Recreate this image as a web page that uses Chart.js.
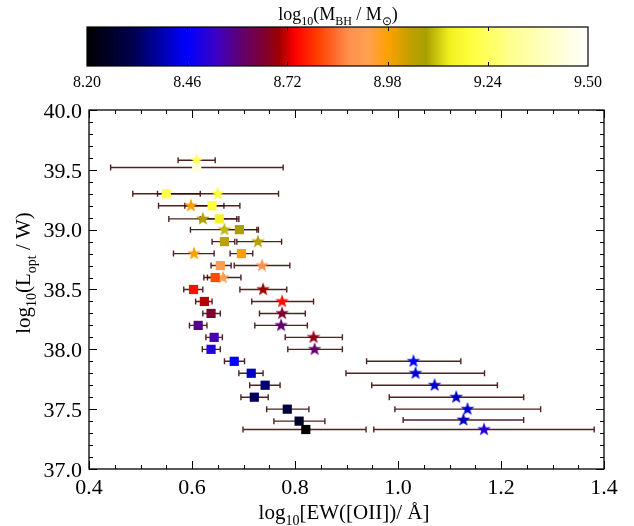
<!DOCTYPE html>
<html>
<head>
<meta charset="utf-8">
<script src="https://cdn.jsdelivr.net/npm/chart.js@4.4.1/dist/chart.umd.min.js"></script>
<style>
  body { margin: 0; background: #fff; }
  #wrap { position: relative; width: 634px; height: 526px; }
  #wrap canvas { position: absolute; left: 0; top: 0; }
</style>
</head>
<body>
<div id="wrap">
  <canvas id="main" width="634" height="526"></canvas>
  <canvas id="cbar" width="634" height="100"></canvas>
</div>
<script>
// squares: log EW, log L, error bar ends, log M_BH (colour)
const sqX    = [0.609, 0.550, 0.639, 0.653, 0.692, 0.663, 0.696, 0.655, 0.645, 0.603, 0.624, 0.637, 0.612, 0.643, 0.637, 0.682, 0.715, 0.742, 0.721, 0.785, 0.808, 0.821];
const sqY    = [39.52, 39.30, 39.20, 39.09, 39.00, 38.90, 38.80, 38.70, 38.60, 38.50, 38.40, 38.30, 38.20, 38.10, 38.00, 37.90, 37.80, 37.70, 37.60, 37.50, 37.40, 37.33];
const sqLo   = [0.442, 0.485, 0.586, 0.616, 0.661, 0.639, 0.674, 0.637, 0.623, 0.584, 0.607, 0.621, 0.595, 0.627, 0.620, 0.663, 0.691, 0.712, 0.695, 0.745, 0.759, 0.699];
const sqHi   = [0.777, 0.616, 0.693, 0.691, 0.729, 0.683, 0.718, 0.676, 0.662, 0.621, 0.639, 0.655, 0.629, 0.659, 0.655, 0.702, 0.738, 0.771, 0.748, 0.827, 0.858, 0.938];
const sqMass = [9.44, 9.22, 9.19, 9.15, 9.08, 9.05, 8.98, 8.92, 8.81, 8.75, 8.71, 8.66, 8.58, 8.55, 8.50, 8.46, 8.41, 8.35, 8.33, 8.29, 8.26, 8.20];

// stars
const stX    = [0.609, 0.650, 0.598, 0.621, 0.663, 0.728, 0.604, 0.736, 0.660, 0.738, 0.775, 0.775, 0.773, 0.836, 0.838, 1.030, 1.034, 1.071, 1.113, 1.135, 1.127, 1.167];
const stY    = [39.58, 39.30, 39.20, 39.09, 39.00, 38.90, 38.80, 38.70, 38.60, 38.50, 38.40, 38.30, 38.20, 38.10, 38.00, 37.90, 37.80, 37.70, 37.60, 37.50, 37.41, 37.33];
const stLo   = [0.573, 0.533, 0.535, 0.555, 0.597, 0.687, 0.564, 0.682, 0.630, 0.693, 0.716, 0.731, 0.722, 0.781, 0.786, 0.939, 0.899, 0.949, 0.983, 0.994, 1.010, 0.953];
const stHi   = [0.645, 0.768, 0.662, 0.687, 0.726, 0.774, 0.643, 0.790, 0.695, 0.784, 0.836, 0.820, 0.824, 0.892, 0.892, 1.122, 1.168, 1.193, 1.244, 1.277, 1.244, 1.381];
const stMass = [9.22, 9.19, 8.98, 9.07, 9.10, 9.06, 8.98, 8.88, 8.93, 8.70, 8.75, 8.66, 8.60, 8.68, 8.61, 8.46, 8.43, 8.42, 8.41, 8.42, 8.41, 8.51];

const xTickVals  = [0.4, 0.6, 0.8, 1.0, 1.2, 1.4];
const yTickVals  = [37.0, 37.5, 38.0, 38.5, 39.0, 39.5, 40.0];
const cbTickVals = [8.20, 8.46, 8.72, 8.98, 9.24, 9.50];

// colour table for the mass bar
const cmapStops = [
  [8.20, '#000000'], [8.32, '#000050'], [8.46, '#0000ff'], [8.54, '#4000c0'],
  [8.60, '#600070'], [8.66, '#800030'], [8.70, '#a00000'], [8.74, '#ff0000'],
  [8.80, '#ff4000'], [8.88, '#ff9050'], [8.93, '#ffa050'], [8.98, '#ffa000'],
  [9.04, '#c0a000'], [9.08, '#a8a000'], [9.14, '#f0f020'], [9.20, '#ffff40'],
  [9.30, '#ffff90'], [9.50, '#ffffff']
];

const FONT = "'Liberation Serif', 'Times New Roman', serif";
Chart.defaults.font.family = FONT;
Chart.defaults.color = '#000';

function hexRgb(h) {
  return [parseInt(h.slice(1, 3), 16), parseInt(h.slice(3, 5), 16), parseInt(h.slice(5, 7), 16)];
}

function cmap(v) {
  if (v <= cmapStops[0][0]) return cmapStops[0][1];
  for (let i = 1; i < cmapStops.length; i++) {
    const [v1, c1] = cmapStops[i];
    if (v <= v1) {
      const [v0, c0] = cmapStops[i - 1];
      const t = (v - v0) / (v1 - v0);
      const a = hexRgb(c0), b = hexRgb(c1);
      const m = a.map((q, k) => Math.round(q + (b[k] - q) * t));
      return `rgb(${m[0]},${m[1]},${m[2]})`;
    }
  }
  return cmapStops[cmapStops.length - 1][1];
}

function makeStar(color) {
  const c = document.createElement('canvas');
  c.width = c.height = 16;
  const g = c.getContext('2d');
  g.beginPath();
  for (let k = 0; k < 10; k++) {
    const r = k % 2 ? 2.9 : 7.2;
    const a = -Math.PI / 2 + k * Math.PI / 5;
    g.lineTo(8 + r * Math.cos(a), 8 + r * Math.sin(a));
  }
  g.closePath();
  g.fillStyle = color;
  g.fill();
  return c;
}
const starImgs = stMass.map(m => makeStar(cmap(m)));

// text with subscripts: parts = [[text, isSub], ...], centred on (x, y)
function drawRich(ctx, parts, x, y, size, rot) {
  const subSize = Math.round(size * 0.65);
  let total = 0;
  const widths = parts.map(([t, sub]) => {
    ctx.font = `${sub ? subSize : size}px ${FONT}`;
    const w = ctx.measureText(t).width;
    total += w;
    return w;
  });
  ctx.save();
  ctx.translate(x, y);
  ctx.rotate(rot || 0);
  ctx.fillStyle = '#000';
  ctx.textBaseline = 'alphabetic';
  ctx.textAlign = 'left';
  let cx = -total / 2;
  parts.forEach(([t, sub], i) => {
    ctx.font = `${sub ? subSize : size}px ${FONT}`;
    ctx.fillText(t, cx, sub ? size * 0.28 : 0);
    cx += widths[i];
  });
  ctx.restore();
}

const errBars = {
  id: 'errBars',
  beforeDatasetsDraw(chart) {
    const { ctx, scales: { x, y } } = chart;
    const sets = [[sqY, sqLo, sqHi], [stY, stLo, stHi]];
    ctx.save();
    ctx.strokeStyle = 'rgba(60,10,10,0.9)';
    ctx.lineWidth = 1.4;
    sets.forEach(([Y, lo, hi]) => {
      Y.forEach((v, i) => {
        const py = y.getPixelForValue(v);
        const p1 = x.getPixelForValue(lo[i]);
        const p2 = x.getPixelForValue(hi[i]);
        ctx.beginPath();
        ctx.moveTo(p1, py); ctx.lineTo(p2, py);
        ctx.moveTo(p1, py - 3); ctx.lineTo(p1, py + 3);
        ctx.moveTo(p2, py - 3); ctx.lineTo(p2, py + 3);
        ctx.stroke();
      });
    });
    ctx.restore();
  }
};

const frame = {
  id: 'frame',
  afterDraw(chart) {
    const { ctx, chartArea: { left, right, top, bottom }, scales: { x, y } } = chart;
    ctx.save();
    ctx.strokeStyle = '#000';
    ctx.lineWidth = 1.3;
    ctx.strokeRect(left, top, right - left, bottom - top);
    ctx.lineWidth = 1;
    ctx.beginPath();
    for (let v = 0.4; v <= 1.4001; v += 0.05) {
      const major = Math.abs(v * 5 - Math.round(v * 5)) < 1e-6;
      const len = major ? 8 : 4;
      const px = Math.round(x.getPixelForValue(v)) + 0.5;
      ctx.moveTo(px, bottom); ctx.lineTo(px, bottom - len);
      ctx.moveTo(px, top); ctx.lineTo(px, top + len);
    }
    for (let v = 37.0; v <= 40.0001; v += 0.1) {
      const major = Math.abs(v * 2 - Math.round(v * 2)) < 1e-6;
      const len = major ? 8 : 4;
      const py = Math.round(y.getPixelForValue(v)) + 0.5;
      ctx.moveTo(left, py); ctx.lineTo(left + len, py);
      ctx.moveTo(right, py); ctx.lineTo(right - len, py);
    }
    ctx.stroke();
    ctx.restore();

    drawRich(ctx, [['log', 0], ['10', 1], ['[EW([OII])/ \u00c5]', 0]], 344, 519, 21, 0);
    drawRich(ctx, [['log', 0], ['10', 1], ['(L', 0], ['opt', 1], [' / W)', 0]], 30, 273, 21, -Math.PI / 2);
  }
};

new Chart(document.getElementById('main'), {
  type: 'scatter',
  data: {
    datasets: [
      {
        label: 'squares',
        data: sqX.map((v, i) => ({ x: v, y: sqY[i] })),
        pointStyle: 'rect',
        pointRadius: 6.5,
        borderWidth: 0,
        backgroundColor: sqMass.map(cmap)
      },
      {
        label: 'stars',
        data: stX.map((v, i) => ({ x: v, y: stY[i] })),
        pointStyle: c => (c.dataIndex !== undefined ? starImgs[c.dataIndex] : 'star'),
        pointRadius: 7,
        borderWidth: 0,
        backgroundColor: stMass.map(cmap)
      }
    ]
  },
  options: {
    responsive: false,
    animation: false,
    devicePixelRatio: 1,
    layout: { padding: { left: 0, right: 30, top: 110, bottom: 0 } },
    plugins: { legend: { display: false }, tooltip: { enabled: false } },
    scales: {
      x: {
        type: 'linear', min: 0.4, max: 1.4,
        afterBuildTicks: s => { s.ticks = xTickVals.map(v => ({ value: v })); },
        afterFit: s => { s.height = 57; },
        ticks: { callback: v => v.toFixed(1), font: { family: FONT, size: 22 }, padding: 6, maxRotation: 0, autoSkip: false },
        grid: { display: false, drawTicks: false },
        border: { display: false }
      },
      y: {
        type: 'linear', min: 37.0, max: 40.0,
        afterBuildTicks: s => { s.ticks = yTickVals.map(v => ({ value: v })); },
        afterFit: s => { s.width = 89; },
        ticks: { callback: v => v.toFixed(1), font: { family: FONT, size: 22 }, padding: 7, labelOffset: 2, autoSkip: false },
        grid: { display: false, drawTicks: false },
        border: { display: false }
      }
    }
  },
  plugins: [errBars, frame]
});

const cbarDraw = {
  id: 'cbarDraw',
  beforeDraw(chart) {
    const { ctx, chartArea: { left, right, top, bottom }, scales: { x } } = chart;
    const lo = cmapStops[0][0], hi = cmapStops[cmapStops.length - 1][0];
    const g = ctx.createLinearGradient(x.getPixelForValue(lo), 0, x.getPixelForValue(hi), 0);
    cmapStops.forEach(([v, c]) => g.addColorStop(Math.min(1, Math.max(0, (v - lo) / (hi - lo))), c));
    ctx.save();
    ctx.fillStyle = g;
    ctx.fillRect(left, top, right - left, bottom - top);
    ctx.strokeStyle = '#000';
    ctx.lineWidth = 1.2;
    ctx.strokeRect(left, top, right - left, bottom - top);
    ctx.beginPath();
    cbTickVals.slice(1, -1).forEach(v => {
      const px = Math.round(x.getPixelForValue(v)) + 0.5;
      ctx.moveTo(px, top); ctx.lineTo(px, top + 4);
      ctx.moveTo(px, bottom); ctx.lineTo(px, bottom - 4);
    });
    ctx.lineWidth = 1;
    ctx.stroke();
    ctx.restore();
    drawRich(ctx, [['log', 0], ['10', 1], ['(M', 0], ['BH', 1], [' / M', 0], ['\u2299', 1], [')', 0]], 338, 20, 18, 0);
  }
};

new Chart(document.getElementById('cbar'), {
  type: 'scatter',
  data: { datasets: [] },
  options: {
    responsive: false,
    animation: false,
    devicePixelRatio: 1,
    layout: { padding: { left: 87, right: 46, top: 27, bottom: 0 } },
    plugins: { legend: { display: false }, tooltip: { enabled: false } },
    scales: {
      x: {
        type: 'linear', min: 8.2, max: 9.5,
        afterBuildTicks: s => { s.ticks = cbTickVals.map(v => ({ value: v })); },
        afterFit: s => { s.height = 34; },
        ticks: { callback: v => v.toFixed(2), font: { family: FONT, size: 16 }, padding: 7, maxRotation: 0, autoSkip: false },
        grid: { display: false, drawTicks: false },
        border: { display: false }
      },
      y: { display: false, min: 0, max: 1 }
    }
  },
  plugins: [cbarDraw]
});
</script>
</body>
</html>
